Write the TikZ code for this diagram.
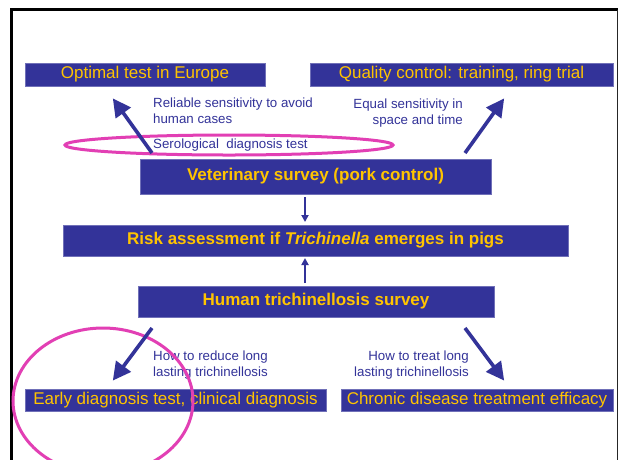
\documentclass[tikz,border=0pt]{standalone}
\usepackage{fontspec}
\setmainfont{Liberation Sans}
\usetikzlibrary{arrows.meta}
\definecolor{boxblue}{HTML}{333399}
\definecolor{boxtext}{HTML}{FFC400}
\definecolor{ringmag}{HTML}{E23FB4}
\tikzset{
  hbox/.style={fill=boxblue, draw=boxblue!70!white, line width=0.6pt, inner sep=0pt, text=boxtext, font=\fontsize{17}{20}\selectfont},
  bbox/.style={fill=boxblue, draw=boxblue!70!white, line width=0.6pt, inner sep=0pt, text=boxtext, font=\fontsize{17}{20}\bfseries\selectfont},
  note/.style={text=boxblue, inner sep=0pt, font=\fontsize{13.3}{16}\selectfont},
  bigarrow/.style={draw=boxblue, line width=3.6pt, -{Triangle[length=18pt,width=18pt]}, shorten >=-2pt},
  smallarrow/.style={draw=boxblue, line width=1.8pt, -{Triangle[length=7pt,width=7pt]}},
  ring/.style={draw=ringmag, line width=3pt}
}
\begin{document}
\begin{tikzpicture}[x=1pt,y=-1pt]
\useasboundingbox (0,0) rectangle (620,459);
\fill[white] (0,0) rectangle (620,459);
% frame
\draw[line width=3pt, black] (11.5,470) -- (11.5,9.5) -- (618,9.5);
\draw[line width=1.2pt, black!85] (617.5,9.5) -- (617.5,470);

% boxes
\node[hbox, minimum width=240pt, minimum height=23pt] (opt) at (145,74.5) {Optimal test in Europe};
\node[hbox, minimum width=303pt, minimum height=23pt] (qc) at (461.5,74.5) {Quality control: training, ring trial};
\node[bbox, minimum width=351pt, minimum height=35pt] (vet) at (315.5,176.5) {Veterinary survey (pork control)};
\node[bbox, minimum width=505pt, minimum height=31pt] (risk) at (315.5,240.5) {Risk assessment if \textit{Trichinella} emerges in pigs};
\node[bbox, minimum width=356pt, minimum height=31pt] (hum) at (316,301.5) {Human trichinellosis survey};
\node[hbox, minimum width=301pt, minimum height=22pt] (early) at (175.5,400) {Early diagnosis test, clinical diagnosis};
\node[hbox, minimum width=272pt, minimum height=22pt] (chron) at (477,400) {Chronic disease treatment efficacy};

% notes
\node[note, anchor=west, align=left] (n1) at (153,111) {Reliable sensitivity to avoid\\human cases};
\node[note, anchor=east, align=right] (n2) at (463,113) {Equal sensitivity in\\space and time};
\node[note, anchor=west] (n3) at (153,145) {Serological\ \ diagnosis test};
\node[note, anchor=west, align=left] (n4) at (153,365) {How to reduce long\\lasting trichinellosis};
\node[note, anchor=east, align=right] (n5) at (469,365) {How to treat long\\lasting trichinellosis};

% rings
\draw[ring] (229,145) ellipse [x radius=164, y radius=10];
\draw[ring] (103,401) ellipse [x radius=90, y radius=73];

% arrow endpoints
\coordinate (a1s) at (152,153);
\coordinate (a1e) at (114,100);
\coordinate (a2s) at (465,153);
\coordinate (a2e) at (503,100);
\coordinate (a3s) at (152,328);
\coordinate (a3e) at (114,379);
\coordinate (a4s) at (465,328);
\coordinate (a4e) at (503,379);
\coordinate (v1s) at (305,197);
\coordinate (v1e) at (305,222);
\coordinate (v2s) at (305,283);
\coordinate (v2e) at (305,258);

\draw[bigarrow] (a1s) -- (a1e);
\draw[bigarrow] (a2s) -- (a2e);
\draw[bigarrow] (a3s) -- (a3e);
\draw[bigarrow] (a4s) -- (a4e);
\draw[smallarrow] (v1s) -- (v1e);
\draw[smallarrow] (v2s) -- (v2e);
\end{tikzpicture}
\end{document}
